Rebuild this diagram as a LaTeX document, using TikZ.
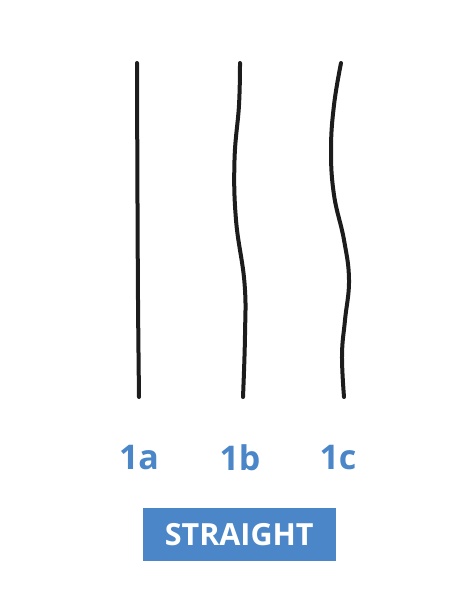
\documentclass[tikz,border=0pt]{standalone}
\usepackage{fontspec}
\setmainfont{Open Sans}
\usepackage{tikz}
\usetikzlibrary{positioning}
\definecolor{strokeink}{HTML}{1C1C1C}
\definecolor{tagblue}{HTML}{4A86C8}

\begin{document}
\begin{tikzpicture}[x=1pt,y=-1pt,
    stroke/.style={draw=strokeink,line width=4pt,line cap=round},
    tag/.style={text=tagblue,font=\fontsize{34}{36}\selectfont\bfseries,inner sep=0pt}]
  \useasboundingbox (0,0) rectangle (464,596);
  % the three lines
  \draw[stroke] plot[smooth,tension=0.6] coordinates
    {(137,63) (137.4,180) (138,300) (139,397)};
  \draw[stroke] plot[smooth,tension=0.7] coordinates
    {(240,63) (239,105) (234.5,160) (236,220) (244.5,283) (245,335) (243,397)};
  \draw[stroke] plot[smooth,tension=0.7] coordinates
    {(341,63) (334,105) (331,150) (334,195) (344,240) (349,280) (345,320) (342,355) (344,397)};
  % labels
  \node[tag] (lblA) at (139,458) {1a};
  \node[tag] (lblB) at (240,458) {1b};
  \node[tag] (lblC) at (338,458) {1c};
  \node[fill=tagblue,text=white,minimum width=193pt,minimum height=53pt,inner sep=0pt,
        font=\fontsize{30.5}{32}\selectfont\bfseries] (straight) at (239.2,534.3) {STRAIGHT};
\end{tikzpicture}
\end{document}
